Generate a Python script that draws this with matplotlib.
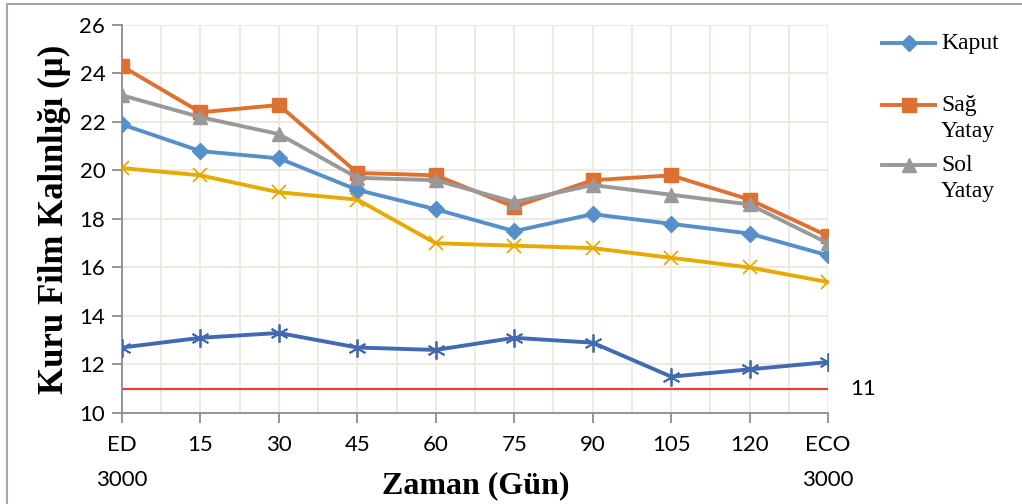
import numpy as np
import matplotlib.pyplot as plt
from matplotlib.lines import Line2D
from matplotlib.patches import Rectangle

days = ["ED\n3000", "15", "30", "45", "60", "75", "90", "105", "120", "ECO\n3000"]
kaput = [21.9, 20.8, 20.5, 19.2, 18.4, 17.5, 18.2, 17.8, 17.4, 16.5]
sag_yatay = [24.3, 22.4, 22.7, 19.9, 19.8, 18.5, 19.6, 19.8, 18.8, 17.3]
sol_yatay = [23.1, 22.2, 21.5, 19.7, 19.6, 18.7, 19.4, 19.0, 18.6, 17.0]
seri4 = [20.1, 19.8, 19.1, 18.8, 17.0, 16.9, 16.8, 16.4, 16.0, 15.4]
seri5 = [12.7, 13.1, 13.3, 12.7, 12.6, 13.1, 12.9, 11.5, 11.8, 12.1]
limit = 11

W, H = 1022, 504
fig = plt.figure(figsize=(W / 100, H / 100), dpi=100)
ax = fig.add_axes([122 / W, 1 - 413 / H, (828 - 122) / W, (413 - 25) / H])

x = np.arange(len(days))
grid_c = "#ECE9DE"
for v in np.arange(0, len(days) - 0.9, 0.5):
    ax.axvline(v, color=grid_c, lw=1.3, zorder=0)
for v in range(12, 27, 2):
    ax.axhline(v, color=grid_c, lw=1.3, zorder=0)

ax.plot(x, [limit] * len(x), color="#F03C3C", lw=1.6, zorder=2)
ax.plot(x, seri5, color="#4169B4", lw=2.8, marker=(6, 2, 0), ms=13, mew=1.3, zorder=3)
ax.plot(x, seri4, color="#E7AA00", lw=2.8, marker="x", ms=10, mew=1.3, zorder=3)
styles = [
    (kaput, "#5590CA", "D", 8, "Kaput"),
    (sag_yatay, "#E07030", "s", 10, "Sağ\nYatay"),
    (sol_yatay, "#999999", "^", 10, "Sol\nYatay"),
]
for vals, c, m, ms, lab in styles:
    ax.plot(x, vals, color=c, lw=2.8, marker=m, ms=ms, zorder=4)

ax.set_xlim(0, len(days) - 1)
ax.set_ylim(10, 26)
ax.set_yticks(range(10, 27, 2))
ax.set_xticks(x)
ax.set_xticklabels(days, linespacing=1.9)
for s in ["top", "right"]:
    ax.spines[s].set_visible(False)
for s in ["left", "bottom"]:
    ax.spines[s].set_color("#8C8C8C")
    ax.spines[s].set_linewidth(1.3)
ax.tick_params(colors="#8C8C8C", labelcolor="black", length=7, width=1.3,
               labelsize=16)
ax.tick_params(axis="x", pad=9)
ax.tick_params(axis="y", pad=5)
for t in ax.get_xticklabels() + ax.get_yticklabels():
    t.set_fontfamily("Lato")

ax.text(len(days) - 1 + 0.28, limit, str(limit), fontsize=16, family="Lato",
        va="center", ha="left")

fig.text(54 / W, 1 - 219 / H, "Kuru Film Kalınlığı (µ)", rotation=90,
         family="Liberation Serif", weight="bold", fontsize=25,
         ha="center", va="center")
fig.text(476 / W, 1 - 486 / H, "Zaman (Gün)", family="Liberation Serif",
         weight="bold", fontsize=23, ha="center", va="center")

# legend drawn by hand (Excel layout)
leg_y = [43, 105, 165]
for (vals, c, m, ms, lab), yy in zip(styles, leg_y):
    fy = 1 - yy / H
    fig.add_artist(Line2D([882 / W, 935 / W], [fy, fy], color=c, lw=2.8))
    fig.add_artist(Line2D([909 / W], [fy], color=c, marker=m, ms=ms, lw=0))
    fig.text(941 / W, fy + 10 / H, lab, family="Liberation Serif", fontsize=17,
             va="top", ha="left", linespacing=1.3)

fig.add_artist(Rectangle((7 / W, -0.1), 1.2, 1 - 4 / H + 0.1, fill=False,
                         ec="#A6A6A6", lw=1.5, transform=fig.transFigure))

fig.savefig("out.png", dpi=100)
